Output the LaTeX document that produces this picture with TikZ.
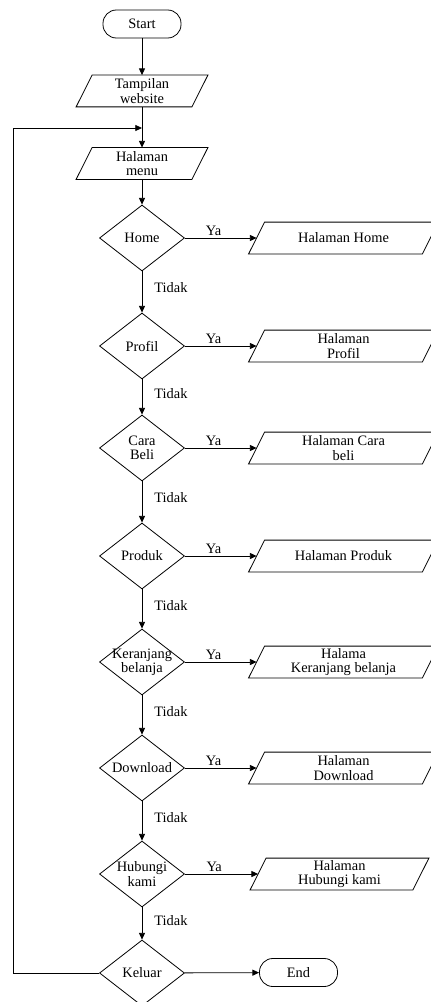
\documentclass[tikz,border=0pt]{standalone}
\usepackage{fontspec}
\setmainfont{Liberation Serif}
\usetikzlibrary{arrows.meta,shapes.geometric}

\begin{document}
\begin{tikzpicture}[x=0.75pt, y=-0.75pt, line width=0.6pt, font=\fontsize{10.8}{10.8}\selectfont,
  terminal/.style={draw, rectangle, rounded corners=10pt, minimum width=58.5pt, minimum height=21pt, inner sep=0pt},
  io/.style={rectangle, minimum width=#1, minimum height=23.25pt, inner sep=1pt, align=center,
    append after command={\pgfextra{\draw ([xshift=-6pt]\tikzlastnode.south west) -- ([xshift=6pt]\tikzlastnode.north west)
      -- ([xshift=6pt]\tikzlastnode.north east) -- ([xshift=-6pt]\tikzlastnode.south east) -- cycle;}}},
  io/.default=86.25pt,
  decision/.style={draw, diamond, minimum width=63.75pt, minimum height=49.5pt, inner sep=0pt},
  flow/.style={-{Triangle[length=5pt, width=4.5pt]}},
  tag/.style={inner sep=1.5pt}]
\useasboundingbox (0,0) rectangle (430,1002);
% start and menu
\node[terminal] (start) at (142,24) {Start};
\node[io] (web) at (142,91) {Tampilan\\website};
\node[io] (menu) at (142,163.5) {Halaman\\menu};
\coordinate (back) at (142,128);
\draw[flow] (start) -- (web);
\draw[flow] (web) -- (menu);
% menu choices with their pages
\foreach \name/\y/\txt/\out/\x/\w in {home/238/Home/Halaman Home/343.5/129.75pt,
    profil/346/Profil/Halaman\\Profil/343.5/129.75pt,
    cara/448/Cara\\Beli/Halaman Cara\\beli/343.5/129.75pt,
    produk/556/Produk/Halaman Produk/343.5/129.75pt,
    keranjang/662/Keranjang\\belanja/Halama\\Keranjang belanja/343.5/129.75pt,
    download/768/Download/Halaman\\Download/343.5/129.75pt,
    hubungi/874/Hubungi\\kami/Halaman\\Hubungi kami/339.5/121.5pt}{
  \node[decision, label={[align=center]center:\txt}] (\name) at (142,\y) {};
  \node[io=\w] (\name-out) at (\x,\y) {\out};
  \draw[flow] (\name) -- node[above, pos=0.4, tag]{Ya} (\name-out);
}
\draw[flow] (menu) -- (home);
\node[decision, label=center:Keluar] (keluar) at (142,973) {};
\node[terminal] (end) at (298.5,972.5) {End};
% no answers down the chain
\foreach \a/\b in {home/profil, profil/cara, cara/produk, produk/keranjang, keranjang/download, download/hubungi, hubungi/keluar}
  \draw[flow] (\a) -- node[right, pos=0.4, xshift=7.5pt, tag]{Tidak} (\b);
\draw[flow] (keluar) -- (end);
% back to the menu
\draw[flow] (keluar.west) -- ++(-86,0) |- (back);
\end{tikzpicture}
\end{document}
